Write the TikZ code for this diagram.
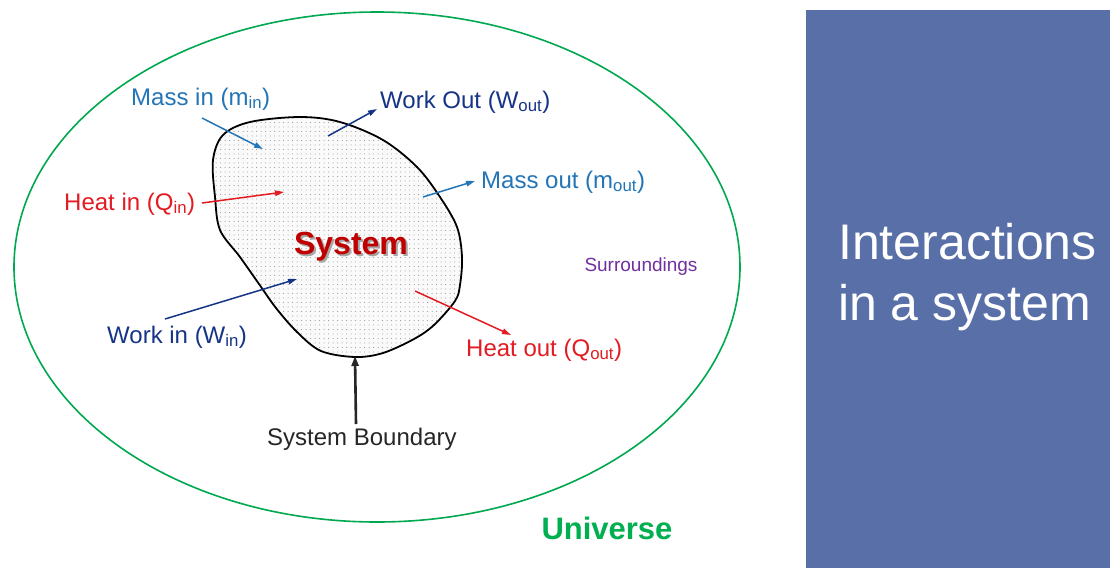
\documentclass[tikz,border=0pt]{standalone}
\usepackage{fontspec}
\setmainfont{Liberation Sans}
\usetikzlibrary{arrows.meta,patterns.meta}
\definecolor{massblue}{RGB}{35,117,182}
\definecolor{worknavy}{RGB}{22,52,135}
\definecolor{heatred}{RGB}{226,28,34}
\definecolor{sysred}{RGB}{192,0,0}
\definecolor{surrpurple}{RGB}{112,48,160}
\definecolor{ellgreen}{RGB}{0,168,80}
\definecolor{unigreen}{RGB}{0,176,80}
\definecolor{panelblue}{RGB}{89,111,168}
\begin{document}
\begin{tikzpicture}[x=1pt,y=-1pt,
  lbl/.style={anchor=base west,inner sep=0pt,font=\fontsize{24}{28}\selectfont},
  flow/.style={line width=1.5pt,-{Triangle[length=9pt,width=5.5pt]}},
  bnd/.style={line width=2.6pt,-{Triangle[length=10pt,width=7pt]}}]
\useasboundingbox (0,0) rectangle (1110,568);
\fill[white] (0,0) rectangle (1110,568);
% right panel
\fill[panelblue] (806,10) rectangle (1110,568);
\node[anchor=base west,inner sep=0pt,text=white,align=left,
  font=\fontsize{50}{61}\selectfont] (title) at (838,320)
  {Interactions\\in a system};
% universe ellipse
\draw[ellgreen,line width=1.6pt] (377,267) ellipse [x radius=363,y radius=255];
% system blob
\def\blobpts{(223,135) (250,122) (300,117) (340,122) (383,140) (417,167) (440,197)
 (457,227) (462,257) (460,285) (455,301) (434,325) (414,339) (383,353)
 (355,357) (321,351) (297,332) (276,308) (259,284) (240,257) (220,230)
 (215,197) (213,160)}
\path[fill=black!2] plot[smooth cycle,tension=0.55] coordinates {\blobpts};
\path[pattern={Dots[radius=0.5pt,distance=4.5pt]},pattern color=black!45]
  plot[smooth cycle,tension=0.55] coordinates {\blobpts};
\draw[line width=1.8pt,line join=round] plot[smooth cycle,tension=0.55] coordinates {\blobpts};
% System label with shadow
\node[inner sep=0pt,text=black!35,font=\fontsize{32}{36}\selectfont\bfseries] at (353,249) {System};
\node[inner sep=0pt,text=sysred,font=\fontsize{32}{36}\selectfont\bfseries] (sys) at (351,247) {System};
% labels
\node[lbl,text=massblue] (massin) at (131,105) {Mass in (m\textsubscript{in})};
\node[lbl,text=heatred] (heatin) at (64,210) {Heat in (Q\textsubscript{in})};
\node[lbl,text=worknavy] (workout) at (380,108) {Work Out (W\textsubscript{out})};
\node[lbl,text=massblue] (massout) at (481,188) {Mass out (m\textsubscript{out})};
\node[lbl,text=worknavy] (workin) at (107,343) {Work in (W\textsubscript{in})};
\node[lbl,text=heatred] (heatout) at (466,356) {Heat out (Q\textsubscript{out})};
\node[lbl,text=black!85] (boundary) at (267,445) {System Boundary};
\node[inner sep=0pt,text=surrpurple,font=\fontsize{19}{23}\selectfont] (surr) at (641,267) {Surroundings};
\node[inner sep=0pt,text=unigreen,font=\fontsize{31}{35}\selectfont\bfseries] (uni) at (607,528) {Universe};
% arrow endpoints
\coordinate (mi1) at (202,118); \coordinate (mi2) at (263,149);
\coordinate (hi1) at (202,203); \coordinate (hi2) at (284,192);
\coordinate (wo1) at (328,136); \coordinate (wo2) at (377,109);
\coordinate (mo1) at (423,197); \coordinate (mo2) at (475,181);
\coordinate (wi1) at (165,319); \coordinate (wi2) at (297,279);
\coordinate (ho1) at (415,291); \coordinate (ho2) at (511,335);
\coordinate (sb1) at (356,424); \coordinate (sb2) at (355,356);
\draw[flow,massblue] (mi1) -- (mi2);
\draw[flow,heatred] (hi1) -- (hi2);
\draw[flow,worknavy] (wo1) -- (wo2);
\draw[flow,massblue] (mo1) -- (mo2);
\draw[flow,worknavy] (wi1) -- (wi2);
\draw[flow,heatred] (ho1) -- (ho2);
\draw[bnd,black!85] (sb1) -- (sb2);
\end{tikzpicture}
\end{document}
